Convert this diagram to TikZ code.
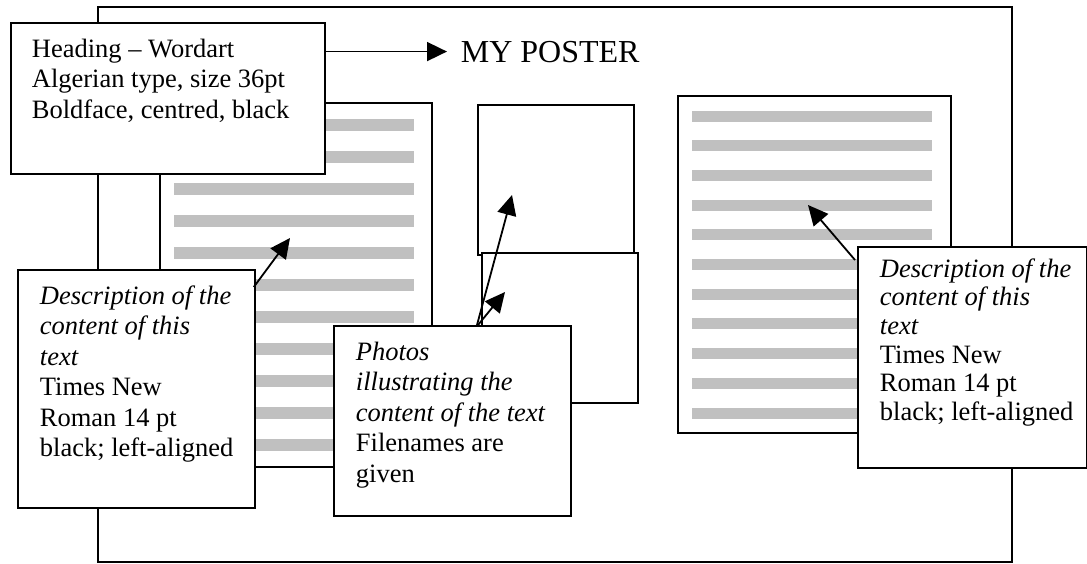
\documentclass[tikz,border=0pt]{standalone}
\usepackage{fontspec}
\setmainfont{Liberation Serif}
\usetikzlibrary{arrows.meta,calc}
\definecolor{barg}{RGB}{192,192,192}
\begin{document}
\begin{tikzpicture}[x=1pt,y=-1pt,
  line width=1.8pt,
  box/.style={draw=black, fill=white, line width=1.8pt, inner sep=0pt, anchor=north west},
  txt/.style={anchor=base west, inner sep=0pt, font=\fontsize{26.5}{30.5}\selectfont},
  txtr/.style={anchor=base west, inner sep=0pt, font=\fontsize{26.5}{28.7}\selectfont},
  panel/.style={draw=black, fill=white, line width=1.8pt},
  arr/.style={-{Triangle[length=20pt,width=19pt]}, line width=1.8pt}]
\useasboundingbox (0,0) rectangle (1087,563);
% poster outline
\draw[line width=1.6pt] (98,7) rectangle (1012,562);
% left text panel
\draw[panel] (160,103) rectangle (432,467);
\foreach \i in {0,...,10}
  \fill[barg] (174,{119+32*\i}) rectangle (414,{131+32*\i});
% right text panel
\draw[panel] (678,96) rectangle (951,433);
\foreach \i in {0,...,10}
  \fill[barg] (692,{110.5+29.7*\i}) rectangle (932,{121.5+29.7*\i});
% photos
\draw[panel] (478,105) rectangle (634,255);
\draw[panel] (482,253) rectangle (638,403);
% heading callout
\node[box, minimum width=314pt, minimum height=151pt] (hb) at (10,22) {};
\node[txt] (hbt) at (31,57) {\begin{tabular}[t]{@{}l@{}}Heading – Wordart\\ Algerian type, size 36pt\\ Boldface, centred, black\end{tabular}};
\node[font=\fontsize{32}{36}\selectfont, inner xsep=13pt, inner ysep=0pt, anchor=base west] (title) at (447,62) {MY POSTER};
% left callout
\node[box, minimum width=237pt, minimum height=238pt] (lb) at (17,269) {};
\node[txt] (lbt) at (39,304) {\begin{tabular}[t]{@{}l@{}}\textit{Description of the}\\ \textit{content of this}\\ \textit{text}\\ Times New\\ Roman 14 pt\\ black; left-aligned\end{tabular}};
% photo callout
\node[box, minimum width=237pt, minimum height=190pt] (pb) at (333,325) {};
\node[txt] (pbt) at (355,360) {\begin{tabular}[t]{@{}l@{}}\textit{Photos}\\ \textit{illustrating the}\\ \textit{content of the text}\\ Filenames are\\ given\end{tabular}};
% right callout
\node[box, minimum width=229pt, minimum height=221pt] (rb) at (857,246) {};
\node[txtr] (rbt) at (879,277) {\begin{tabular}[t]{@{}l@{}}\textit{Description of the}\\ \textit{content of this}\\ \textit{text}\\ Times New\\ Roman 14 pt\\ black; left-aligned\end{tabular}};
% arrow tips
\coordinate (tipA) at (290,238);
\coordinate (tipB) at (512,195);
\coordinate (tipC) at (505,292);
\coordinate (tipD) at (808,205);
% connectors
\draw[arr] (hb.east |- title.west) -- (title.west);
\draw[arr] ($(lb.north east)+(-2,18)$) -- (tipA);
\draw[arr] ($(pb.north west)+(144,0)$) -- (tipB);
\draw[arr] ($(pb.north west)+(145,0)$) -- (tipC);
\draw[arr] ($(rb.north west)+(-2,14)$) -- (tipD);
\end{tikzpicture}
\end{document}
